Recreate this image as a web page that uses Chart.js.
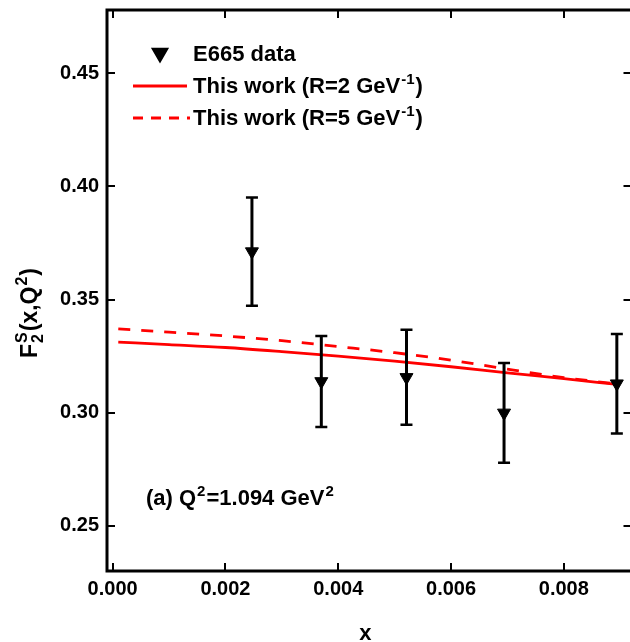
<!DOCTYPE html>
<html>
<head>
<meta charset="utf-8">
<script src="https://cdn.jsdelivr.net/npm/chart.js@4/dist/chart.umd.min.js"></script>
<style>
  html, body { margin: 0; padding: 0; background: #fff; }
  #wrap { width: 630px; height: 642px; overflow: hidden; }
</style>
</head>
<body>
<div id="wrap"><canvas id="c" width="640" height="642"></canvas></div>
<script>
// ── data ──
const dataX   = [0.00247, 0.00370, 0.00521, 0.00694, 0.00894];
const dataY   = [0.3712, 0.3138, 0.3156, 0.2999, 0.3128];
const dataErr = [0.0239, 0.0201, 0.0210, 0.0220, 0.0220];

const curveX  = [0.0001, 0.001, 0.002, 0.003, 0.004, 0.005, 0.006, 0.007, 0.008, 0.0089];
const solidY  = [0.3312, 0.3301, 0.3288, 0.3270, 0.3250, 0.3228, 0.3203, 0.3176, 0.3150, 0.3126];
const dashedY = [0.3370, 0.3356, 0.3339, 0.3318, 0.3292, 0.3265, 0.3232, 0.3192, 0.3155, 0.3128];

const xTickLabels = ['0.000', '0.002', '0.004', '0.006', '0.008'];
const yTickLabels = ['0.25', '0.30', '0.35', '0.40', '0.45'];

const FONT = '"Liberation Sans", Arial, sans-serif';
const RED = '#ff0000';

function pts(xs, ys) { return xs.map((x, i) => ({ x: x, y: ys[i] })); }

// text with super/subscripts: parts = [[text, 'sup'|'sub'|undefined], ...]
function drawRich(ctx, parts, x, y, size) {
  const small = Math.round(size * 0.68);
  let cx = x;
  parts.forEach(p => {
    const txt = p[0], kind = p[1];
    if (kind === 'sup') {
      ctx.font = 'bold ' + small + 'px ' + FONT;
      ctx.fillText(txt, cx + 1, y - size * 0.42);
      cx += ctx.measureText(txt).width + 2;
    } else if (kind === 'sub') {
      ctx.font = 'bold ' + small + 'px ' + FONT;
      ctx.fillText(txt, cx + 1, y + size * 0.25);
      // no advance, a superscript follows at the same spot
    } else {
      ctx.font = 'bold ' + size + 'px ' + FONT;
      ctx.fillText(txt, cx, y);
      cx += ctx.measureText(txt).width;
    }
  });
  return cx;
}

// error bars, drawn just before the E665 markers
const errorBars = {
  id: 'errorBars',
  beforeDatasetDraw(chart, args) {
    if (args.index !== 0) return;
    const ctx = chart.ctx, xs = chart.scales.x, ys = chart.scales.y;
    ctx.save();
    ctx.strokeStyle = '#000';
    dataX.forEach((x, i) => {
      const px = xs.getPixelForValue(x);
      const top = ys.getPixelForValue(dataY[i] + dataErr[i]);
      const bot = ys.getPixelForValue(dataY[i] - dataErr[i]);
      ctx.lineWidth = 3;
      ctx.beginPath();
      ctx.moveTo(px, top); ctx.lineTo(px, bot);
      ctx.stroke();
      ctx.lineWidth = 2.5;
      ctx.beginPath();
      ctx.moveTo(px - 6, top); ctx.lineTo(px + 6, top);
      ctx.moveTo(px - 6, bot); ctx.lineTo(px + 6, bot);
      ctx.stroke();
    });
    ctx.restore();
  }
};

// frame, inward ticks, legend, titles
const decor = {
  id: 'decor',
  afterDraw(chart) {
    const ctx = chart.ctx, a = chart.chartArea;
    const xs = chart.scales.x, ys = chart.scales.y;
    ctx.save();
    ctx.strokeStyle = '#000';
    ctx.lineWidth = 2;
    ctx.beginPath();
    xs.ticks.forEach(t => {
      const px = Math.round(xs.getPixelForValue(t.value));
      const len = t.label != null ? 8 : 5;
      ctx.moveTo(px, a.bottom); ctx.lineTo(px, a.bottom - len);
      ctx.moveTo(px, a.top); ctx.lineTo(px, a.top + len);
    });
    ys.ticks.forEach(t => {
      const py = Math.round(ys.getPixelForValue(t.value));
      const len = t.label != null ? 8 : 5;
      ctx.moveTo(a.left, py); ctx.lineTo(a.left + len, py);
      ctx.moveTo(a.right, py); ctx.lineTo(a.right - len, py);
    });
    ctx.stroke();
    ctx.lineWidth = 3;
    ctx.strokeRect(a.left, a.top, a.right - a.left, a.bottom - a.top);

    // legend
    ctx.fillStyle = '#000';
    ctx.textBaseline = 'alphabetic';
    ctx.textAlign = 'left';
    Chart.helpers.drawPoint(ctx, { pointStyle: 'triangle', radius: 7.5, rotation: 180, borderWidth: 1 }, 160, 53);
    ctx.fill();
    const lx = 193, lsize = 22;
    drawRich(ctx, [['E665 data']], lx, 61, lsize);
    ctx.strokeStyle = RED;
    ctx.lineWidth = 2.8;
    ctx.beginPath(); ctx.moveTo(133, 86); ctx.lineTo(187, 86); ctx.stroke();
    drawRich(ctx, [['This work (R=2 GeV'], ['-1', 'sup'], [')']], lx, 93, lsize);
    ctx.setLineDash([10, 8]);
    ctx.beginPath(); ctx.moveTo(133, 118); ctx.lineTo(190, 118); ctx.stroke();
    ctx.setLineDash([]);
    drawRich(ctx, [['This work (R=5 GeV'], ['-1', 'sup'], [')']], lx, 125, lsize);

    // annotation
    drawRich(ctx, [['(a) Q'], ['2', 'sup'], ['=1.094 GeV'], ['2', 'sup']], 146, 505, 22);

    // x title
    ctx.textAlign = 'center';
    ctx.font = 'bold 22px ' + FONT;
    ctx.fillText('x', (a.left + a.right) / 2 - 4, 640);
    ctx.textAlign = 'left';

    // y title
    ctx.translate(37, 358);
    ctx.rotate(-Math.PI / 2);
    drawRich(ctx, [['F'], ['2', 'sub'], ['S', 'sup'], ['(x,Q'], ['2', 'sup'], [')']], 0, 0, 23);
    ctx.restore();
  }
};

new Chart(document.getElementById('c'), {
  type: 'scatter',
  data: {
    datasets: [
      {
        label: 'E665 data',
        data: pts(dataX, dataY),
        pointStyle: 'triangle',
        rotation: 180,
        pointRadius: 7.5,
        pointHoverRadius: 7.5,
        backgroundColor: '#000',
        borderColor: '#000',
        borderWidth: 1,
        showLine: false
      },
      {
        label: 'This work (R=2 GeV-1)',
        data: pts(curveX, solidY),
        showLine: true,
        borderColor: RED,
        borderWidth: 2.8,
        pointRadius: 0,
        cubicInterpolationMode: 'monotone'
      },
      {
        label: 'This work (R=5 GeV-1)',
        data: pts(curveX, dashedY),
        showLine: true,
        borderColor: RED,
        borderWidth: 2.8,
        borderDash: [12, 11],
        pointRadius: 0,
        cubicInterpolationMode: 'monotone'
      }
    ]
  },
  options: {
    responsive: false,
    animation: false,
    devicePixelRatio: 1,
    layout: { padding: { top: 10, right: 4, left: 0, bottom: 0 } },
    plugins: { legend: { display: false }, tooltip: { enabled: false } },
    scales: {
      x: {
        type: 'linear',
        min: -0.0001,
        max: 0.0092,
        grid: { display: false, drawTicks: false },
        border: { display: false },
        ticks: {
          stepSize: 0.001,
          includeBounds: false,
          autoSkip: false,
          maxRotation: 0,
          padding: 6,
          color: '#000',
          font: { family: FONT, size: 20, weight: 'bold' },
          callback: v => {
            const s = v.toFixed(3);
            return xTickLabels.includes(s) ? s : null;
          }
        },
        afterFit: s => { s.height = 71; s.paddingLeft = 0; s.paddingRight = 0; }
      },
      y: {
        type: 'linear',
        min: 0.23,
        max: 0.478,
        grid: { display: false, drawTicks: false },
        border: { display: false },
        ticks: {
          stepSize: 0.025,
          includeBounds: false,
          autoSkip: false,
          padding: 8,
          color: '#000',
          font: { family: FONT, size: 20, weight: 'bold' },
          callback: v => {
            const s = v.toFixed(2);
            return yTickLabels.includes(s) ? s : null;
          }
        },
        afterFit: s => { s.width = 107; s.paddingTop = 0; s.paddingBottom = 0; }
      }
    }
  },
  plugins: [errorBars, decor]
});
</script>
</body>
</html>
